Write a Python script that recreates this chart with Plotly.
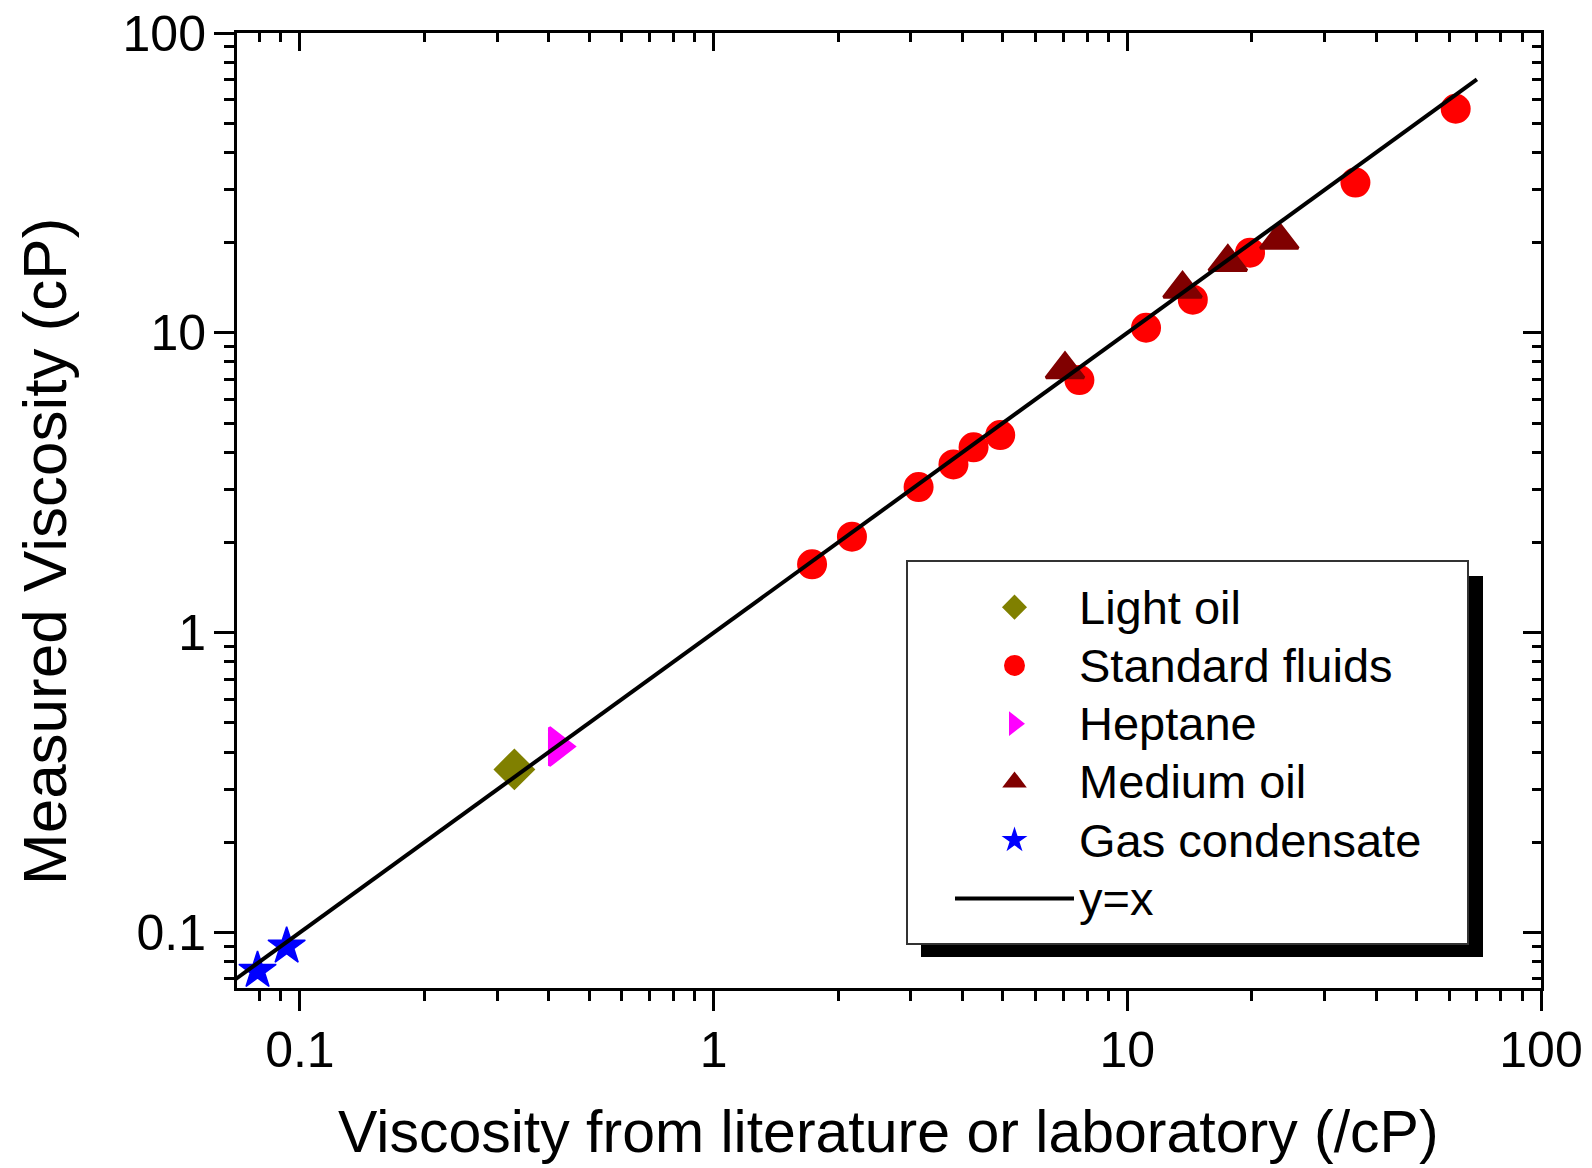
import plotly.graph_objects as go

# ---- data ----
series_names = ["Light oil", "Standard fluids", "Heptane", "Medium oil", "Gas condensate"]

light_oil_x = [0.330]
light_oil_y = [0.350]

standard_x = [1.73, 2.16, 3.13, 3.80, 4.25, 4.93, 7.66, 11.1, 14.4, 19.8, 35.6, 62.2]
standard_y = [1.69, 2.09, 3.06, 3.64, 4.15, 4.56, 6.96, 10.4, 12.9, 18.5, 31.7, 55.9]

heptane_x = [0.420]
heptane_y = [0.417]

medium_x = [7.07, 13.6, 17.5, 23.3]
medium_y = [7.55, 14.0, 17.2, 20.4]

gas_x = [0.0790, 0.0929]
gas_y = [0.0747, 0.0900]

line_x = [0.07, 70]
line_y = [0.07, 70]
line_name = "y=x"

tick_vals = [0.1, 1, 10, 100]
tick_text = ["0.1", "1", "10", "100"]

x_title = "Viscosity from literature or laboratory (/cP)"
y_title = "Measured Viscosity (cP)"

FONT = "Liberation Sans, Arial, sans-serif"
W, H = 1592, 1168
L, R, T, B = 237, 1541, 33, 988   # plot area (px)

def px_x(p):
    return (p - L) / (R - L)

def px_y(p):
    return (B - p) / (B - T)

def leg(name):
    # legend entries drawn slightly larger than the legend row spacing font
    return '<span style="font-size:47px">' + name + '</span>'

fig = go.Figure()

fig.add_trace(go.Scatter(x=light_oil_x, y=light_oil_y, mode="markers", name=leg(series_names[0]),
                         marker=dict(symbol="diamond", size=29, color="#808000",
                                     line=dict(color="#808000", width=3))))
fig.add_trace(go.Scatter(x=standard_x, y=standard_y, mode="markers", name=leg(series_names[1]),
                         marker=dict(symbol="circle", size=25, color="#FF0000",
                                     line=dict(color="#FF0000", width=5))))
fig.add_trace(go.Scatter(x=heptane_x, y=heptane_y, mode="markers", name=leg(series_names[2]),
                         marker=dict(symbol="triangle-right", size=33, color="#FF00FF",
                                     line=dict(color="#FF00FF", width=3))))
fig.add_trace(go.Scatter(x=medium_x, y=medium_y, mode="markers", name=leg(series_names[3]),
                         marker=dict(symbol="triangle-up", size=33, color="#800000",
                                     line=dict(color="#800000", width=3))))
fig.add_trace(go.Scatter(x=gas_x, y=gas_y, mode="markers", name=leg(series_names[4]),
                         marker=dict(symbol="star", size=28, color="#0000FF",
                                     line=dict(color="#0000FF", width=1.5))))
fig.add_trace(go.Scatter(x=line_x, y=line_y, mode="lines", name=leg(line_name),
                         line=dict(color="black", width=4), xaxis="x2", yaxis="y2"))

xr = [-1.152, 2.0]
yr = [-1.185, 2.0]

common = dict(type="log", showgrid=False, zeroline=False, showline=True,
              linecolor="black", linewidth=3, tickcolor="black", tickwidth=3)

fig.update_layout(
    width=W, height=H,
    paper_bgcolor="white", plot_bgcolor="white",
    margin=dict(l=L, r=W - R, t=T, b=H - B, pad=0),
    font=dict(family=FONT, color="black"),
    xaxis=dict(**common, range=xr, ticks="outside", ticklen=20,
               tickvals=tick_vals, ticktext=tick_text,
               tickfont=dict(size=50, family=FONT), ticklabelstandoff=-4,
               ticklabeloverflow="allow",
               minor=dict(ticks="outside", ticklen=10, tickwidth=3, tickcolor="black",
                          dtick="D1", showgrid=False),
               automargin=False),
    yaxis=dict(**common, range=yr, ticks="outside", ticklen=20,
               tickvals=tick_vals, ticktext=tick_text,
               tickfont=dict(size=50, family=FONT), ticklabelstandoff=-2,
               ticklabeloverflow="allow",
               minor=dict(ticks="outside", ticklen=10, tickwidth=3, tickcolor="black",
                          dtick="D1", showgrid=False),
               automargin=False),
    xaxis2=dict(**common, range=xr, overlaying="x", side="top", anchor="y2",
                ticks="inside", ticklen=18, tickvals=tick_vals, showticklabels=False,
                minor=dict(ticks="inside", ticklen=9, tickwidth=3, tickcolor="black",
                           dtick="D1", showgrid=False)),
    yaxis2=dict(**common, range=yr, overlaying="y", side="right", anchor="x2",
                ticks="inside", ticklen=18, tickvals=tick_vals, showticklabels=False,
                minor=dict(ticks="inside", ticklen=9, tickwidth=3, tickcolor="black",
                           dtick="D1", showgrid=False)),
    annotations=[
        dict(text=y_title, textangle=-90, xref="paper", yref="paper",
             x=px_x(44), y=px_y(552), xanchor="center", yanchor="middle",
             showarrow=False, font=dict(size=62, family=FONT, color="black")),
        dict(text=x_title, xref="paper", yref="paper",
             x=px_x(888), y=px_y(1166), xanchor="center", yanchor="bottom",
             borderpad=0, showarrow=False, font=dict(size=59, family=FONT, color="black")),
    ],
    showlegend=True,
    legend=dict(x=px_x(950), y=px_y(573), xanchor="left", yanchor="top",
                bgcolor="rgba(0,0,0,0)", borderwidth=0, itemwidth=119,
                font=dict(size=42.5, family=FONT, color="black"),
                tracegroupgap=0),
    shapes=[
        dict(type="rect", xref="paper", yref="paper",
             x0=px_x(921), x1=px_x(1483), y0=px_y(957), y1=px_y(576),
             fillcolor="black", line=dict(width=0), layer="above"),
        dict(type="rect", xref="paper", yref="paper",
             x0=px_x(907), x1=px_x(1468), y0=px_y(944), y1=px_y(561),
             fillcolor="white", line=dict(color="#333333", width=2), layer="above"),
    ],
)

fig.write_html("out.html", config={"displayModeBar": False},
               post_script="document.body.style.margin='0';document.body.style.overflow='hidden';")
